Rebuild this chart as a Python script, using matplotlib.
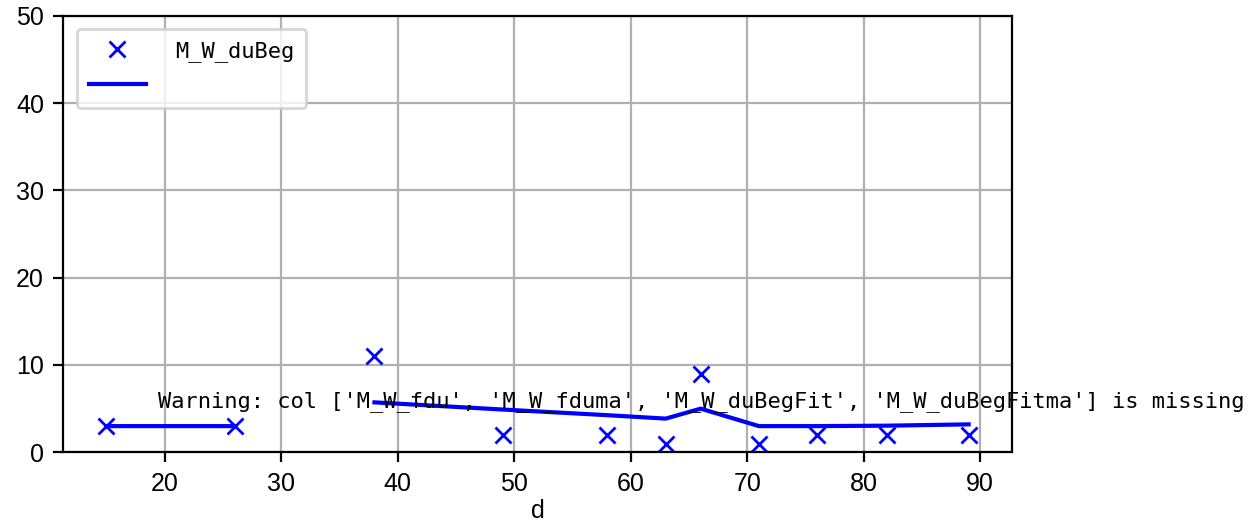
import numpy as np
import matplotlib
matplotlib.use("Agg")
import matplotlib.pyplot as plt

##### data

d = [15, 26, 38, 49, 58, 63, 66, 71, 76, 82, 89]
du_beg = [3, 3, 11, 2, 2, 1, 9, 1, 2, 2, 2]

# fitted line, gap between 26 and 38
d_fit = [15, 26, 32, 38, 49, 58, 63, 66, 71, 76, 82, 89]
du_fit = [3, 3, np.nan, 5.72, 4.9, 4.25, 3.86, 5.0, 3.0, 3.0, 3.05, 3.2]

missing_cols = ['M_W_fdu', 'M_W_fduma', 'M_W_duBegFit', 'M_W_duBegFitma']

#### plot

plt.rcParams['font.family'] = ['Liberation Sans', 'DejaVu Sans']
plt.rcParams['font.size'] = 9

fig = plt.figure(figsize=(6.285, 2.61), dpi=200)
ax = fig.add_axes([0.0504, 0.1335, 0.7545, 0.8364])

h1, = ax.plot(d, du_beg, "x", color="blue")
h2, = ax.plot(d_fit, du_fit, "-", color="blue")

ax.set_ylim(0, 50)
ax.set_xlabel("d", fontsize=9, labelpad=1)
ax.grid(True)

mono = {'family': 'DejaVu Sans Mono', 'size': 7.95}
ax.legend([h1, h2], ["M_W_duBeg", " "], loc="upper left", prop=mono,
          borderpad=0.55, labelspacing=0.64, handlelength=2.6,
          handletextpad=1.3, borderaxespad=0.6)

ax.text(0.1, 0.093, "Warning: col " + str(missing_cols) + " is missing",
        transform=ax.transAxes, va="bottom", fontdict=mono)

fig.savefig("out.png", dpi=200)
